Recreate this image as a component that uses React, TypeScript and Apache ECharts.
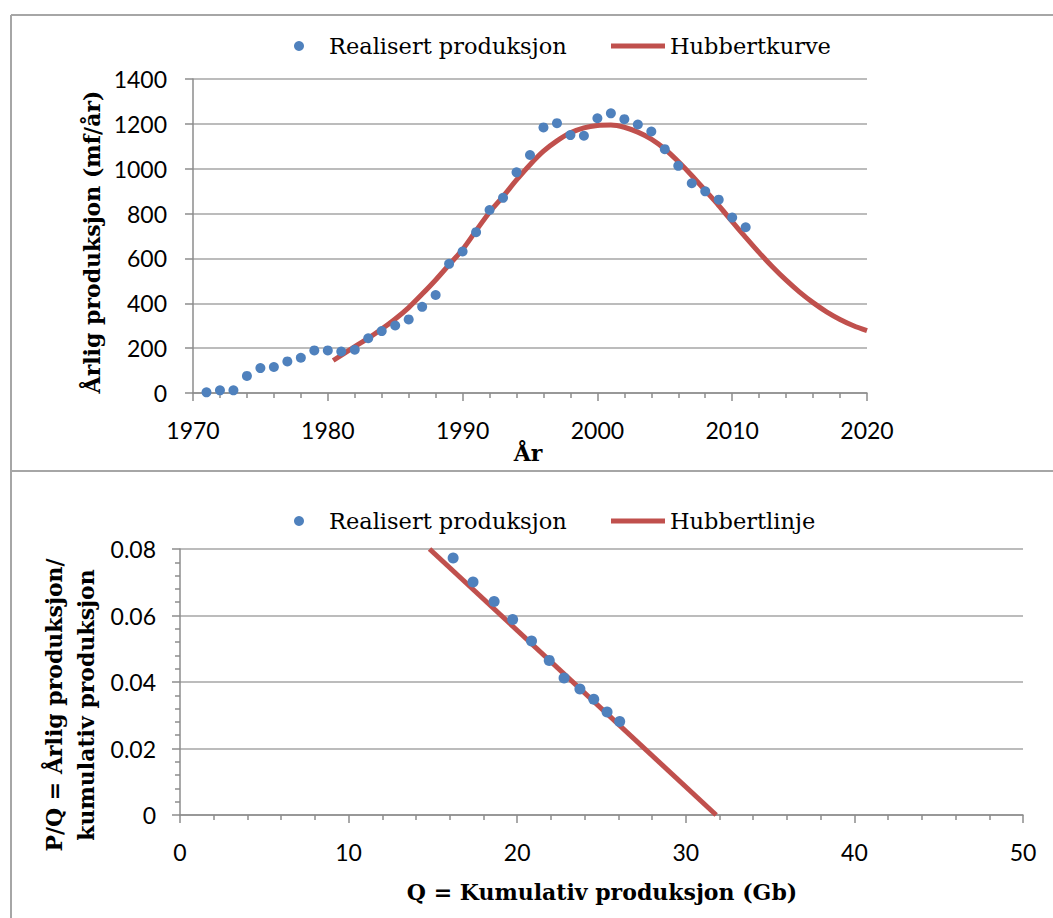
import React, { useEffect, useRef } from "react";
import * as echarts from "echarts";

// Annual production (realised), 1971-2011
const years = [
  1971, 1972, 1973, 1974, 1975, 1976, 1977, 1978, 1979, 1980, 1981, 1982, 1983, 1984,
  1985, 1986, 1987, 1988, 1989, 1990, 1991, 1992, 1993, 1994, 1995, 1996, 1997, 1998,
  1999, 2000, 2001, 2002, 2003, 2004, 2005, 2006, 2007, 2008, 2009, 2010, 2011,
];
const production = [
  3, 12, 12, 76, 111, 116, 141, 157, 190, 190, 185, 193, 244, 276,
  301, 328, 384, 437, 576, 631, 717, 816, 870, 984, 1061, 1184, 1203, 1150,
  1147, 1225, 1247, 1221, 1197, 1166, 1087, 1013, 935, 899, 862, 782, 739,
];

// Fitted Hubbert curve
const curveYears = [
  1980.4, 1982, 1983, 1984, 1985, 1986, 1987, 1988, 1989, 1990, 1991, 1992, 1993, 1994,
  1995, 1996, 1997, 1998, 1999, 2000, 2001, 2002, 2003, 2004, 2005, 2006, 2007, 2008,
  2009, 2010, 2011, 2012, 2013, 2014, 2015, 2016, 2017, 2018, 2019, 2020,
];
const curveValues = [
  145, 207, 244, 285, 330, 381, 441, 504, 572, 640, 724, 806, 876, 950,
  1018, 1078, 1124, 1160, 1182, 1193, 1195, 1185, 1163, 1132, 1088, 1032, 970, 903,
  836, 764, 694, 626, 562, 503, 450, 403, 362, 328, 300, 278,
];

// Hubbert linearisation: P/Q against cumulative production Q (Gb)
const cumulative = [16.2, 17.38, 18.63, 19.73, 20.85, 21.9, 22.78, 23.72, 24.54, 25.33, 26.08];
const ratio = [0.0773, 0.0701, 0.0642, 0.0588, 0.0523, 0.0465, 0.0412, 0.0379, 0.0348, 0.031, 0.0281];

// Fitted Hubbert line end points
const lineQ = [14.8, 31.8];
const lineRatio = [0.08, 0];

const BLUE = "#4F81BD";
const RED = "#C0504D";
const AXIS = "#8C8C8C";
const GRID = "#A6A6A6";
const FRAME = "#A6A6A6";
const TICK_FONT = "Lato";
const SERIF = "DejaVu Serif";

const legendText = { fontFamily: SERIF, fontSize: 22.5, color: "#000", lineHeight: 26 };

const tickLabel = (margin: number) => ({
  fontFamily: TICK_FONT,
  fontSize: 23,
  color: "#000",
  margin,
  formatter: (v: number) => String(v),
});

export default function App() {
  const ref = useRef<HTMLDivElement>(null);

  useEffect(() => {
    if (!ref.current) return;
    const chart = echarts.init(ref.current, undefined, { renderer: "svg" });

    const title = (text: string, x: number, y: number, rotate: boolean, lineHeight = 26) => ({
      type: "text",
      x,
      y,
      rotation: rotate ? Math.PI / 2 : 0,
      style: {
        text,
        fontFamily: SERIF,
        fontWeight: "bold",
        fontSize: 22,
        lineHeight,
        fill: "#000",
        align: "center",
        verticalAlign: "middle",
      },
    });

    chart.setOption({
      animation: false,
      backgroundColor: "#fff",
      grid: [
        { left: 193, top: 79, width: 674, height: 314 },
        { left: 180, top: 549, width: 843, height: 266 },
      ],
      legend: [
        {
          data: [{ name: "Realisert produksjon", icon: "circle" }],
          left: 294, top: 33, padding: 0, itemWidth: 50, itemHeight: 10,
          selectedMode: false, textStyle: legendText,
        },
        {
          data: [{ name: "Hubbertkurve", icon: "rect" }],
          left: 611, top: 33, padding: 0, itemWidth: 54, itemHeight: 5,
          selectedMode: false, textStyle: legendText,
        },
        {
          data: [{ name: "Realisert produksjon", icon: "circle" }],
          left: 294, top: 508, padding: 0, itemWidth: 50, itemHeight: 10,
          selectedMode: false, textStyle: legendText,
        },
        {
          data: [{ name: "Hubbertlinje", icon: "rect" }],
          left: 611, top: 508, padding: 0, itemWidth: 54, itemHeight: 5,
          selectedMode: false, textStyle: legendText,
        },
      ],
      xAxis: [
        {
          type: "value", gridIndex: 0, min: 1970, max: 2020, interval: 10,
          axisLine: { show: true, lineStyle: { color: AXIS, width: 1.5 } },
          axisTick: { show: true, length: 8, lineStyle: { color: AXIS, width: 1.5 } },
          minorTick: { show: true, splitNumber: 5, length: 5, lineStyle: { color: AXIS, width: 1.5 } },
          splitLine: { show: false },
          axisLabel: tickLabel(25),
        },
        {
          type: "value", gridIndex: 1, min: 0, max: 50, interval: 10,
          axisLine: { show: true, lineStyle: { color: AXIS, width: 1.5 } },
          axisTick: { show: true, length: 8, lineStyle: { color: AXIS, width: 1.5 } },
          minorTick: { show: true, splitNumber: 5, length: 5, lineStyle: { color: AXIS, width: 1.5 } },
          splitLine: { show: false },
          axisLabel: tickLabel(25),
        },
      ],
      yAxis: [
        {
          type: "value", gridIndex: 0, min: 0, max: 1400, interval: 200,
          axisLine: { show: true, lineStyle: { color: AXIS, width: 1.5 } },
          axisTick: { show: true, length: 8, lineStyle: { color: AXIS, width: 1.5 } },
          splitLine: { show: true, lineStyle: { color: GRID, width: 1.5 } },
          axisLabel: tickLabel(26),
        },
        {
          type: "value", gridIndex: 1, min: 0, max: 0.08, interval: 0.02,
          axisLine: { show: true, lineStyle: { color: AXIS, width: 1.5 } },
          axisTick: { show: true, length: 8, lineStyle: { color: AXIS, width: 1.5 } },
          minorTick: { show: true, splitNumber: 5, length: 5, lineStyle: { color: AXIS, width: 1.5 } },
          splitLine: { show: true, lineStyle: { color: GRID, width: 1.5 } },
          axisLabel: {
            fontFamily: TICK_FONT, fontSize: 23, color: "#000", margin: 24,
            formatter: (v: number) => (v === 0 ? "0" : v.toFixed(2)),
          },
        },
      ],
      series: [
        {
          name: "Hubbertkurve", type: "line", xAxisIndex: 0, yAxisIndex: 0,
          data: curveYears.map((y, i) => [y, curveValues[i]]),
          smooth: 0.3, symbol: "none", z: 2,
          itemStyle: { color: RED },
          lineStyle: { color: RED, width: 5 },
        },
        {
          name: "Realisert produksjon", type: "scatter", xAxisIndex: 0, yAxisIndex: 0,
          data: years.map((y, i) => [y, production[i]]),
          symbolSize: 10, z: 3,
          itemStyle: { color: BLUE, opacity: 1 },
        },
        {
          name: "Hubbertlinje", type: "line", xAxisIndex: 1, yAxisIndex: 1,
          data: lineQ.map((q, i) => [q, lineRatio[i]]),
          symbol: "none", z: 2,
          itemStyle: { color: RED },
          lineStyle: { color: RED, width: 5 },
        },
        {
          name: "Realisert produksjon", type: "scatter", xAxisIndex: 1, yAxisIndex: 1,
          data: cumulative.map((q, i) => [q, ratio[i]]),
          symbolSize: 11, z: 3,
          itemStyle: { color: BLUE, opacity: 1 },
        },
      ],
      graphic: [
        // panel frame
        { type: "line", shape: { x1: 11, y1: 15, x2: 1053, y2: 15 }, style: { stroke: FRAME, lineWidth: 2 } },
        { type: "line", shape: { x1: 11, y1: 15, x2: 11, y2: 918 }, style: { stroke: FRAME, lineWidth: 2 } },
        { type: "line", shape: { x1: 11, y1: 471, x2: 1053, y2: 471 }, style: { stroke: FRAME, lineWidth: 2 } },
        // axis titles
        title("Årlig produksjon (mf/år)", 92, 242, true),
        title("År", 528, 453, false),
        title("P/Q = Årlig produksjon/\nkumulativ produksjon", 70, 705, true, 32),
        title("Q = Kumulativ produksjon (Gb)", 602, 892, false),
      ],
    });

    return () => chart.dispose();
  }, []);

  return (
    <div
      ref={ref}
      style={{ position: "absolute", left: 0, top: 0, width: 1053, height: 918, background: "#fff" }}
    />
  );
}
